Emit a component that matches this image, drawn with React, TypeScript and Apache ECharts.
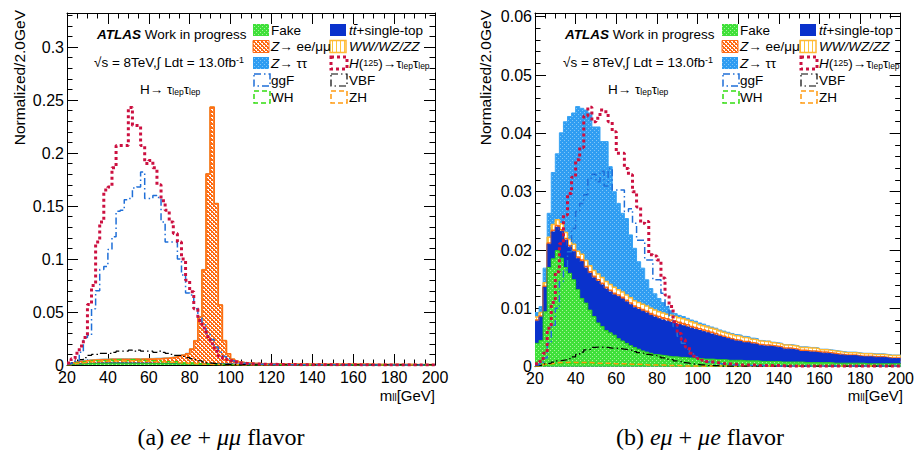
import React, { useEffect, useRef } from 'react';
import * as echarts from 'echarts';

// ---- binning: 2 GeV bins from 20 to 200 (lower edges) ----
const BIN_LO: number[] = Array.from({ length: 90 }, (_, i) => 20 + 2 * i);

// ================= (a) ee + mumu =================
const L_FAKE = [
  0.0004, 0.0006, 0.0008, 0.0010, 0.0012, 0.0013, 0.0014, 0.0015, 0.0016, 0.0016,
  0.0017, 0.0017, 0.0017, 0.0017, 0.0016, 0.0016, 0.0016, 0.0015, 0.0015, 0.0015,
  0.0014, 0.0014, 0.0013, 0.0013, 0.0012, 0.0012, 0.0011, 0.0011, 0.0010, 0.0010,
  0.0010, 0.0009, 0.0009, 0.0009, 0.0008, 0.0008, 0.0008, 0.0007, 0.0007, 0.0007,
  0.0006, 0.0006, 0.0006, 0.0005, 0.0005, 0.0005, 0.0005, 0.0004, 0.0004, 0.0004,
  0.0004, 0.0004, 0.0004, 0.0003, 0.0003, 0.0003, 0.0003, 0.0003, 0.0003, 0.0003,
  0.0003, 0.0003, 0.0002, 0.0002, 0.0002, 0.0002, 0.0002, 0.0002, 0.0002, 0.0002,
  0.0002, 0.0002, 0.0002, 0.0002, 0.0002, 0.0002, 0.0002, 0.0002, 0.0002, 0.0002,
  0.0002, 0.0002, 0.0002, 0.0002, 0.0002, 0.0001, 0.0001, 0.0001, 0.0001, 0.0001,
];
const L_TTBAR = [
  0.0001, 0.0002, 0.0002, 0.0003, 0.0003, 0.0003, 0.0003, 0.0003, 0.0003, 0.0003,
  0.0003, 0.0003, 0.0003, 0.0003, 0.0003, 0.0003, 0.0003, 0.0003, 0.0003, 0.0003,
  0.0003, 0.0003, 0.0003, 0.0003, 0.0003, 0.0003, 0.0003, 0.0003, 0.0003, 0.0003,
  0.0003, 0.0003, 0.0003, 0.0003, 0.0003, 0.0003, 0.0003, 0.0003, 0.0003, 0.0003,
  0.0003, 0.0003, 0.0003, 0.0003, 0.0003, 0.0002, 0.0002, 0.0002, 0.0002, 0.0002,
  0.0002, 0.0002, 0.0002, 0.0002, 0.0002, 0.0002, 0.0002, 0.0002, 0.0002, 0.0002,
  0.0002, 0.0002, 0.0002, 0.0002, 0.0002, 0.0002, 0.0002, 0.0002, 0.0002, 0.0002,
  0.0002, 0.0002, 0.0002, 0.0002, 0.0001, 0.0001, 0.0001, 0.0001, 0.0001, 0.0001,
  0.0001, 0.0001, 0.0001, 0.0001, 0.0001, 0.0001, 0.0001, 0.0001, 0.0001, 0.0001,
];
const L_ZLL = [
  0.0005, 0.0010, 0.0015, 0.0020, 0.0024, 0.0027, 0.0029, 0.0030, 0.0031, 0.0031,
  0.0032, 0.0032, 0.0033, 0.0033, 0.0034, 0.0034, 0.0035, 0.0035, 0.0036, 0.0037,
  0.0038, 0.0040, 0.0042, 0.0045, 0.0048, 0.0053, 0.0059, 0.0067, 0.0078, 0.0092,
  0.0135, 0.0215, 0.0440, 0.0885, 0.1790, 0.2420, 0.1510, 0.0555, 0.0218, 0.0095,
  0.0045, 0.0026, 0.0016, 0.0011, 0.0009, 0.0007, 0.0006, 0.0005, 0.0005, 0.0004,
  0.0004, 0.0004, 0.0003, 0.0003, 0.0003, 0.0003, 0.0003, 0.0003, 0.0002, 0.0002,
  0.0002, 0.0002, 0.0002, 0.0002, 0.0002, 0.0002, 0.0002, 0.0002, 0.0002, 0.0002,
  0.0002, 0.0002, 0.0002, 0.0002, 0.0002, 0.0001, 0.0001, 0.0001, 0.0001, 0.0001,
  0.0001, 0.0001, 0.0001, 0.0001, 0.0001, 0.0001, 0.0001, 0.0001, 0.0001, 0.0001,
];
const L_VV = [
  0.0001, 0.0001, 0.0001, 0.0001, 0.0001, 0.0001, 0.0001, 0.0001, 0.0001, 0.0001,
  0.0002, 0.0002, 0.0002, 0.0002, 0.0002, 0.0002, 0.0002, 0.0002, 0.0002, 0.0002,
  0.0002, 0.0002, 0.0002, 0.0002, 0.0002, 0.0002, 0.0002, 0.0002, 0.0002, 0.0002,
  0.0002, 0.0002, 0.0002, 0.0002, 0.0002, 0.0002, 0.0002, 0.0002, 0.0002, 0.0002,
  0.0001, 0.0001, 0.0001, 0.0001, 0.0001, 0.0001, 0.0001, 0.0001, 0.0001, 0.0001,
  0.0001, 0.0001, 0.0001, 0.0001, 0.0001, 0.0001, 0.0001, 0.0001, 0.0001, 0.0001,
  0.0001, 0.0001, 0.0001, 0.0001, 0.0001, 0.0001, 0.0001, 0.0001, 0.0001, 0.0001,
  0.0001, 0.0001, 0.0001, 0.0001, 0.0001, 0.0001, 0.0001, 0.0001, 0.0001, 0.0001,
  0.0001, 0.0001, 0.0001, 0.0001, 0.0001, 0.0001, 0.0001, 0.0001, 0.0001, 0.0001,
];
const L_ZTT = [
  0.0001, 0.0002, 0.0003, 0.0004, 0.0005, 0.0005, 0.0005, 0.0005, 0.0005, 0.0005,
  0.0005, 0.0005, 0.0005, 0.0005, 0.0005, 0.0005, 0.0005, 0.0005, 0.0005, 0.0005,
  0.0005, 0.0005, 0.0004, 0.0004, 0.0004, 0.0004, 0.0004, 0.0004, 0.0004, 0.0004,
  0.0004, 0.0003, 0.0003, 0.0003, 0.0003, 0.0002, 0.0002, 0.0002, 0.0002, 0.0001,
  0.0001, 0.0001, 0.0001, 0.0001, 0.0001, 0.0001, 0.0001, 0.0001, 0.0001, 0.0001,
  0.0001, 0.0001, 0.0001, 0.0001, 0.0001, 0.0001, 0.0001, 0.0001, 0.0001, 0.0001,
  0.0001, 0.0001, 0.0001, 0.0001, 0.0001, 0.0001, 0.0001, 0.0001, 0.0001, 0.0001,
  0.0001, 0.0001, 0.0001, 0.0001, 0.0001, 0.0001, 0.0001, 0.0001, 0.0001, 0.0001,
  0.0001, 0.0001, 0.0001, 0.0001, 0.0001, 0.0001, 0.0001, 0.0001, 0.0001, 0.0001,
];
const L_HIGGS = [
  0.002, 0.006, 0.011, 0.018, 0.026, 0.057, 0.075, 0.116, 0.135, 0.165,
  0.168, 0.186, 0.207, 0.207, 0.207, 0.243, 0.226, 0.226, 0.207, 0.190,
  0.193, 0.186, 0.170, 0.155, 0.146, 0.135, 0.124, 0.116, 0.100, 0.080,
  0.069, 0.053, 0.042, 0.035, 0.027, 0.020, 0.013, 0.008, 0.006, 0.005,
  0.0040, 0.0030, 0.0020, 0.0015, 0.0012, 0.0010, 0.0009, 0.0008, 0.0007, 0.0006,
  0.0006, 0.0005, 0.0005, 0.0004, 0.0004, 0.0004, 0.0003, 0.0003, 0.0003, 0.0003,
  0.0003, 0.0002, 0.0002, 0.0002, 0.0002, 0.0002, 0.0002, 0.0002, 0.0002, 0.0002,
  0.0002, 0.0001, 0.0001, 0.0002, 0.0001, 0.0001, 0.0001, 0.0001, 0.0001, 0.0001,
  0.0001, 0.0001, 0.0001, 0.0001, 0.0001, 0.0001, 0.0001, 0.0001, 0.0001, 0.0001,
];
const L_GGF = [
  0.001, 0.002, 0.004, 0.012, 0.026, 0.028, 0.053, 0.070, 0.090, 0.093,
  0.109, 0.121, 0.145, 0.146, 0.156, 0.157, 0.167, 0.168, 0.182, 0.157,
  0.157, 0.160, 0.158, 0.135, 0.116, 0.116, 0.116, 0.100, 0.085, 0.068,
  0.066, 0.053, 0.045, 0.038, 0.030, 0.024, 0.017, 0.012, 0.008, 0.006,
  0.0040, 0.0030, 0.0020, 0.0015, 0.0012, 0.0010, 0.0008, 0.0007, 0.0006, 0.0005,
  0.0005, 0.0004, 0.0004, 0.0004, 0.0003, 0.0003, 0.0003, 0.0003, 0.0002, 0.0002,
  0.0002, 0.0002, 0.0002, 0.0002, 0.0002, 0.0002, 0.0001, 0.0001, 0.0001, 0.0001,
  0.0001, 0.0001, 0.0001, 0.0001, 0.0001, 0.0001, 0.0001, 0.0001, 0.0001, 0.0001,
  0.0001, 0.0001, 0.0001, 0.0001, 0.0001, 0.0001, 0.0001, 0.0001, 0.0001, 0.0001,
];
const L_VBF = [
  0.001, 0.002, 0.004, 0.005, 0.007, 0.009, 0.010, 0.010, 0.011, 0.011,
  0.011, 0.012, 0.013, 0.013, 0.013, 0.014, 0.013, 0.014, 0.013, 0.013,
  0.013, 0.012, 0.013, 0.012, 0.011, 0.010, 0.009, 0.009, 0.008, 0.007,
  0.006, 0.005, 0.004, 0.003, 0.002, 0.0015, 0.0010, 0.0008, 0.0006, 0.0005,
  0.0004, 0.0004, 0.0003, 0.0003, 0.0002, 0.0002, 0.0002, 0.0002, 0.0001, 0.0001,
  0.0001, 0.0001, 0.0001, 0.0001, 0.0001, 0.0001, 0.0001, 0.0001, 0.0001, 0.0001,
  0.0001, 0.0001, 0.0001, 0.0001, 0.0001, 0.0001, 0.0001, 0.0001, 0.0001, 0.0001,
  0.0001, 0.0001, 0.0001, 0.0001, 0.0001, 0.0001, 0.0001, 0.0001, 0.0001, 0.0001,
  0.0001, 0.0001, 0.0001, 0.0001, 0.0001, 0.0001, 0.0001, 0.0001, 0.0001, 0.0001,
];
const L_WH = [
  0.0005, 0.0010, 0.0020, 0.0020, 0.0030, 0.0030, 0.0040, 0.0040, 0.0040, 0.0040,
  0.0050, 0.0040, 0.0050, 0.0050, 0.0040, 0.0050, 0.0050, 0.0040, 0.0050, 0.0040,
  0.0040, 0.0040, 0.0040, 0.0030, 0.0030, 0.0030, 0.0030, 0.0020, 0.0020, 0.0020,
  0.0020, 0.0015, 0.0010, 0.0010, 0.0008, 0.0006, 0.0005, 0.0004, 0.0003, 0.0003,
  0.0002, 0.0002, 0.0002, 0.0002, 0.0001, 0.0001, 0.0001, 0.0001, 0.0001, 0.0001,
  0.0001, 0.0001, 0.0001, 0.0001, 0.0001, 0.0001, 0.0001, 0.0001, 0.0001, 0.0001,
  0.0001, 0.0001, 0.0001, 0.0001, 0.0001, 0.0001, 0.0001, 0.0001, 0.0001, 0.0001,
  0.0001, 0.0001, 0.0001, 0.0001, 0.0001, 0.0001, 0.0001, 0.0001, 0.0001, 0.0001,
  0.0001, 0.0001, 0.0001, 0.0001, 0.0001, 0.0001, 0.0001, 0.0001, 0.0001, 0.0001,
];
const L_ZH = [
  0.0003, 0.0008, 0.0015, 0.0020, 0.0025, 0.0030, 0.0030, 0.0035, 0.0035, 0.0035,
  0.0035, 0.0040, 0.0035, 0.0040, 0.0035, 0.0040, 0.0040, 0.0035, 0.0035, 0.0035,
  0.0035, 0.0030, 0.0030, 0.0030, 0.0025, 0.0025, 0.0025, 0.0020, 0.0020, 0.0015,
  0.0015, 0.0012, 0.0010, 0.0008, 0.0006, 0.0005, 0.0004, 0.0003, 0.0003, 0.0002,
  0.0002, 0.0002, 0.0001, 0.0001, 0.0001, 0.0001, 0.0001, 0.0001, 0.0001, 0.0001,
  0.0001, 0.0001, 0.0001, 0.0001, 0.0001, 0.0001, 0.0001, 0.0001, 0.0001, 0.0001,
  0.0001, 0.0001, 0.0001, 0.0001, 0.0001, 0.0001, 0.0001, 0.0001, 0.0001, 0.0001,
  0.0001, 0.0001, 0.0001, 0.0001, 0.0001, 0.0001, 0.0001, 0.0001, 0.0001, 0.0001,
  0.0001, 0.0001, 0.0001, 0.0001, 0.0001, 0.0001, 0.0001, 0.0001, 0.0001, 0.0001,
];

// ================= (b) e mu + mu e =================
const R_FAKE = [
  0.0040, 0.0045, 0.0094, 0.0170, 0.0185, 0.0199, 0.0186, 0.0170, 0.0160, 0.0149,
  0.0132, 0.0117, 0.0109, 0.0097, 0.0086, 0.0075, 0.0069, 0.0062, 0.0058, 0.0054,
  0.0048, 0.0044, 0.0040, 0.0036, 0.0033, 0.0030, 0.0027, 0.0025, 0.0023, 0.0021,
  0.0020, 0.0019, 0.0018, 0.0017, 0.0017, 0.0016, 0.0016, 0.0015, 0.0015, 0.0014,
  0.0014, 0.0013, 0.0013, 0.0013, 0.0012, 0.0012, 0.0012, 0.0011, 0.0011, 0.0011,
  0.0011, 0.0010, 0.0010, 0.0010, 0.0010, 0.0009, 0.0009, 0.0009, 0.0009, 0.0009,
  0.0008, 0.0008, 0.0008, 0.0008, 0.0008, 0.0008, 0.0007, 0.0007, 0.0007, 0.0007,
  0.0007, 0.0007, 0.0007, 0.0006, 0.0006, 0.0006, 0.0006, 0.0006, 0.0006, 0.0006,
  0.0006, 0.0005, 0.0005, 0.0005, 0.0005, 0.0005, 0.0005, 0.0005, 0.0005, 0.0005,
];
const R_TTBAR = [
  0.0038, 0.0040, 0.0042, 0.0040, 0.0046, 0.0040, 0.0046, 0.0047, 0.0045, 0.0048,
  0.0053, 0.0063, 0.0060, 0.0063, 0.0066, 0.0071, 0.0071, 0.0071, 0.0070, 0.0069,
  0.0072, 0.0072, 0.0071, 0.0070, 0.0068, 0.0068, 0.0068, 0.0067, 0.0065, 0.0064,
  0.0062, 0.0061, 0.0060, 0.0059, 0.0057, 0.0056, 0.0054, 0.0053, 0.0051, 0.0050,
  0.0048, 0.0047, 0.0045, 0.0043, 0.0042, 0.0040, 0.0038, 0.0037, 0.0035, 0.0033,
  0.0032, 0.0031, 0.0031, 0.0029, 0.0028, 0.0027, 0.0026, 0.0026, 0.0025, 0.0024,
  0.0024, 0.0022, 0.0022, 0.0021, 0.0020, 0.0018, 0.0019, 0.0018, 0.0018, 0.0017,
  0.0016, 0.0016, 0.0015, 0.0015, 0.0014, 0.0014, 0.0013, 0.0013, 0.0013, 0.0012,
  0.0011, 0.0012, 0.0012, 0.0011, 0.0011, 0.0011, 0.0010, 0.0009, 0.0009, 0.0009,
];
const R_ZLL = [
  0.0002, 0.0002, 0.0002, 0.0002, 0.0003, 0.0003, 0.0003, 0.0003, 0.0003, 0.0003,
  0.0003, 0.0003, 0.0003, 0.0003, 0.0003, 0.0003, 0.0003, 0.0003, 0.0003, 0.0003,
  0.0003, 0.0003, 0.0003, 0.0003, 0.0003, 0.0003, 0.0003, 0.0003, 0.0003, 0.0003,
  0.0004, 0.0004, 0.0004, 0.0004, 0.0004, 0.0004, 0.0004, 0.0004, 0.0003, 0.0003,
  0.0003, 0.0003, 0.0003, 0.0003, 0.0003, 0.0002, 0.0002, 0.0002, 0.0002, 0.0002,
  0.0002, 0.0002, 0.0002, 0.0002, 0.0002, 0.0002, 0.0002, 0.0002, 0.0002, 0.0002,
  0.0002, 0.0002, 0.0002, 0.0002, 0.0002, 0.0002, 0.0002, 0.0002, 0.0002, 0.0002,
  0.0002, 0.0002, 0.0002, 0.0002, 0.0002, 0.0001, 0.0001, 0.0001, 0.0001, 0.0001,
  0.0001, 0.0001, 0.0001, 0.0001, 0.0001, 0.0001, 0.0001, 0.0001, 0.0001, 0.0001,
];
const R_VV = [
  0.0005, 0.0006, 0.0006, 0.0010, 0.0010, 0.0010, 0.0010, 0.0010, 0.0010, 0.0010,
  0.0010, 0.0010, 0.0010, 0.0010, 0.0010, 0.0010, 0.0010, 0.0010, 0.0010, 0.0010,
  0.0009, 0.0009, 0.0009, 0.0009, 0.0009, 0.0009, 0.0009, 0.0009, 0.0009, 0.0009,
  0.0008, 0.0008, 0.0008, 0.0008, 0.0008, 0.0008, 0.0008, 0.0008, 0.0008, 0.0008,
  0.0007, 0.0007, 0.0007, 0.0007, 0.0007, 0.0007, 0.0007, 0.0007, 0.0007, 0.0007,
  0.0007, 0.0007, 0.0006, 0.0006, 0.0006, 0.0006, 0.0006, 0.0006, 0.0005, 0.0005,
  0.0005, 0.0005, 0.0005, 0.0005, 0.0005, 0.0005, 0.0005, 0.0005, 0.0005, 0.0005,
  0.0004, 0.0004, 0.0004, 0.0004, 0.0004, 0.0004, 0.0004, 0.0004, 0.0004, 0.0004,
  0.0004, 0.0004, 0.0004, 0.0004, 0.0004, 0.0004, 0.0004, 0.0004, 0.0004, 0.0004,
];
const R_ZTT = [
  0.0008, 0.0010, 0.0025, 0.0041, 0.0089, 0.0113, 0.0156, 0.0190, 0.0211, 0.0225,
  0.0248, 0.0250, 0.0258, 0.0262, 0.0246, 0.0252, 0.0233, 0.0240, 0.0202, 0.0164,
  0.0148, 0.0135, 0.0131, 0.0108, 0.0090, 0.0070, 0.0062, 0.0045, 0.0034, 0.0028,
  0.0023, 0.0018, 0.0013, 0.0008, 0.0005, 0.0004, 0.0004, 0.0003, 0.0003, 0.0003,
  0.0003, 0.0003, 0.0002, 0.0002, 0.0002, 0.0002, 0.0002, 0.0002, 0.0002, 0.0002,
  0.0002, 0.0002, 0.0002, 0.0002, 0.0002, 0.0001, 0.0001, 0.0001, 0.0001, 0.0001,
  0.0001, 0.0001, 0.0001, 0.0001, 0.0001, 0.0001, 0.0001, 0.0001, 0.0001, 0.0001,
  0.0001, 0.0001, 0.0001, 0.0001, 0.0001, 0.0001, 0.0001, 0.0001, 0.0001, 0.0001,
  0.0001, 0.0001, 0.0001, 0.0001, 0.0001, 0.0001, 0.0001, 0.0001, 0.0001, 0.0001,
];
const R_HIGGS = [
  0.0005, 0.0009, 0.0023, 0.0066, 0.0110, 0.0163, 0.0211, 0.0260, 0.0297, 0.0325,
  0.0355, 0.0376, 0.0430, 0.0445, 0.0420, 0.0426, 0.0440, 0.0437, 0.0420, 0.0403,
  0.0366, 0.0366, 0.0340, 0.0329, 0.0300, 0.0274, 0.0246, 0.0249, 0.0192, 0.0190,
  0.0183, 0.0152, 0.0123, 0.0103, 0.0077, 0.0057, 0.0046, 0.0034, 0.0023, 0.0018,
  0.0014, 0.0011, 0.0009, 0.0008, 0.0007, 0.0006, 0.0005, 0.0005, 0.0004, 0.0004,
  0.0003, 0.0003, 0.0003, 0.0003, 0.0002, 0.0002, 0.0002, 0.0002, 0.0002, 0.0002,
  0.0002, 0.0001, 0.0001, 0.0001, 0.0001, 0.0001, 0.0001, 0.0001, 0.0001, 0.0001,
  0.0001, 0.0001, 0.0001, 0.0001, 0.0001, 0.0001, 0.0001, 0.0001, 0.0001, 0.0001,
  0.0001, 0.0001, 0.0001, 0.0001, 0.0001, 0.0001, 0.0001, 0.0001, 0.0001, 0.0001,
];
const R_GGF = [
  0.0003, 0.0005, 0.0015, 0.0040, 0.0071, 0.0100, 0.0146, 0.0166, 0.0197, 0.0237,
  0.0266, 0.0280, 0.0295, 0.0323, 0.0330, 0.0317, 0.0335, 0.0310, 0.0340, 0.0303,
  0.0303, 0.0303, 0.0266, 0.0271, 0.0246, 0.0217, 0.0217, 0.0183, 0.0183, 0.0149,
  0.0149, 0.0126, 0.0103, 0.0085, 0.0069, 0.0052, 0.0040, 0.0030, 0.0022, 0.0017,
  0.0013, 0.0010, 0.0008, 0.0007, 0.0006, 0.0005, 0.0004, 0.0004, 0.0003, 0.0003,
  0.0003, 0.0002, 0.0002, 0.0002, 0.0002, 0.0002, 0.0002, 0.0001, 0.0001, 0.0001,
  0.0001, 0.0001, 0.0001, 0.0001, 0.0001, 0.0001, 0.0001, 0.0001, 0.0001, 0.0001,
  0.0001, 0.0001, 0.0001, 0.0001, 0.0001, 0.0001, 0.0001, 0.0001, 0.0001, 0.0001,
  0.0001, 0.0001, 0.0001, 0.0001, 0.0001, 0.0001, 0.0001, 0.0001, 0.0001, 0.0001,
];
const R_VBF = [
  0.0002, 0.0003, 0.0005, 0.0006, 0.0008, 0.0010, 0.0011, 0.0012, 0.0014, 0.0017,
  0.0021, 0.0025, 0.0029, 0.0030, 0.0033, 0.0034, 0.0033, 0.0033, 0.0032, 0.0032,
  0.0031, 0.0030, 0.0029, 0.0028, 0.0026, 0.0024, 0.0023, 0.0021, 0.0020, 0.0019,
  0.0017, 0.0015, 0.0013, 0.0012, 0.0010, 0.0009, 0.0007, 0.0006, 0.0005, 0.0004,
  0.0003, 0.0003, 0.0002, 0.0002, 0.0002, 0.0001, 0.0001, 0.0001, 0.0001, 0.0001,
  0.0001, 0.0001, 0.0001, 0.0001, 0.0001, 0.0001, 0.0001, 0.0001, 0.0001, 0.0001,
  0.0001, 0.0001, 0.0001, 0.0001, 0.0001, 0.0001, 0.0001, 0.0001, 0.0001, 0.0001,
  0.0001, 0.0001, 0.0001, 0.0001, 0.0001, 0.0001, 0.0001, 0.0001, 0.0001, 0.0001,
  0.0001, 0.0001, 0.0001, 0.0001, 0.0001, 0.0001, 0.0001, 0.0001, 0.0001, 0.0001,
];
const R_WH = [
  0.0001, 0.0002, 0.0003, 0.0004, 0.0005, 0.0005, 0.0006, 0.0006, 0.0006, 0.0006,
  0.0006, 0.0006, 0.0006, 0.0006, 0.0006, 0.0005, 0.0005, 0.0005, 0.0005, 0.0005,
  0.0005, 0.0004, 0.0004, 0.0004, 0.0004, 0.0003, 0.0003, 0.0003, 0.0003, 0.0003,
  0.0003, 0.0002, 0.0002, 0.0002, 0.0002, 0.0001, 0.0001, 0.0001, 0.0001, 0.0001,
  0.0001, 0.0001, 0.0001, 0.0001, 0.0001, 0.0001, 0.0001, 0.0001, 0.0001, 0.0001,
  0.0001, 0.0001, 0.0001, 0.0001, 0.0001, 0.0001, 0.0001, 0.0001, 0.0001, 0.0001,
  0.0001, 0.0001, 0.0001, 0.0001, 0.0001, 0.0001, 0.0001, 0.0001, 0.0001, 0.0001,
  0.0001, 0.0001, 0.0001, 0.0001, 0.0001, 0.0001, 0.0001, 0.0001, 0.0001, 0.0001,
  0.0001, 0.0001, 0.0001, 0.0001, 0.0001, 0.0001, 0.0001, 0.0001, 0.0001, 0.0001,
];
const R_ZH = [
  0.0001, 0.0002, 0.0004, 0.0005, 0.0006, 0.0007, 0.0007, 0.0007, 0.0008, 0.0007,
  0.0007, 0.0007, 0.0007, 0.0007, 0.0006, 0.0006, 0.0006, 0.0006, 0.0006, 0.0005,
  0.0005, 0.0005, 0.0005, 0.0004, 0.0004, 0.0004, 0.0004, 0.0003, 0.0003, 0.0003,
  0.0003, 0.0003, 0.0002, 0.0002, 0.0002, 0.0002, 0.0001, 0.0001, 0.0001, 0.0001,
  0.0001, 0.0001, 0.0001, 0.0001, 0.0001, 0.0001, 0.0001, 0.0001, 0.0001, 0.0001,
  0.0001, 0.0001, 0.0001, 0.0001, 0.0001, 0.0001, 0.0001, 0.0001, 0.0001, 0.0001,
  0.0001, 0.0001, 0.0001, 0.0001, 0.0001, 0.0001, 0.0001, 0.0001, 0.0001, 0.0001,
  0.0001, 0.0001, 0.0001, 0.0001, 0.0001, 0.0001, 0.0001, 0.0001, 0.0001, 0.0001,
  0.0001, 0.0001, 0.0001, 0.0001, 0.0001, 0.0001, 0.0001, 0.0001, 0.0001, 0.0001,
];

const L_YMAX = 0.3321;
const R_YMAX = 0.06064;

const SANS = '"Liberation Sans", Arial, Helvetica, sans-serif';
const SERIF = '"Liberation Serif", "Times New Roman", serif';

const C = {
  fake: '#3fe03a', fakeLine: '#2ccc22',
  ttbar: '#0a32cc',
  zll: '#ff6a14',
  vv: '#ffb833',
  ztt: '#2f9df2', zttLine: '#3aa4f4',
  higgs: '#cc1040', ggf: '#1f6fd8', vbf: '#000000', wh: '#33dd11', zh: '#ff9a10',
};

function makePattern(w: number, h: number, draw: (ctx: CanvasRenderingContext2D) => void) {
  const c = document.createElement('canvas');
  c.width = w; c.height = h;
  const ctx = c.getContext('2d')!;
  draw(ctx);
  return { image: c, repeat: 'repeat', imageWidth: w, imageHeight: h } as any;
}

function pts(vals: number[]) {
  const d = BIN_LO.map((x, i) => [x, vals[i]]);
  d.push([200, vals[vals.length - 1]]);
  return d;
}

// running sum of the stacked components (THStack layering)
function cumulative(...layers: number[][]) {
  return layers[0].map((_, i) => layers.reduce((s, a) => s + a[i], 0));
}

export default function App() {
  const ref = useRef<HTMLDivElement>(null);
  useEffect(() => {
    if (!ref.current) return;
    const chart = echarts.init(ref.current, null, { renderer: 'svg', width: 917, height: 450 });

    const pFake = makePattern(4, 4, (g) => {
      g.fillStyle = C.fake; g.fillRect(0, 0, 4, 4);
      g.fillStyle = '#a6f59a'; g.fillRect(0, 0, 1, 1); g.fillRect(2, 2, 1, 1);
    });
    const pZll = makePattern(4, 4, (g) => {
      g.fillStyle = '#ffffff'; g.fillRect(0, 0, 4, 4);
      g.fillStyle = C.zll;
      for (let i = 0; i < 4; i++) { g.fillRect(i, i, 1, 1); g.fillRect(3 - i, i, 1, 1); }
      g.fillRect(1, 0, 1, 1); g.fillRect(3, 2, 1, 1);
    });
    const pZtt = makePattern(4, 4, (g) => {
      g.fillStyle = C.ztt; g.fillRect(0, 0, 4, 4);
      g.fillStyle = '#80c6f8'; g.fillRect(0, 0, 1, 1); g.fillRect(2, 2, 1, 1);
    });
    const pVV = makePattern(4, 4, (g) => {
      g.fillStyle = '#ffffff'; g.fillRect(0, 0, 4, 4);
      g.fillStyle = '#ffc53a'; g.fillRect(0, 0, 1, 4);
    });

    const xAx = (gridIndex: number, position: string, show: boolean) => ({
      type: 'value', gridIndex, position, min: 20, max: 200, interval: 20,
      axisLine: { show: true, onZero: false, lineStyle: { color: '#000', width: 1 } },
      axisTick: { show: true, inside: true, length: 11, lineStyle: { color: '#000', width: 1 } },
      minorTick: { show: true, splitNumber: 4, length: 5.5, lineStyle: { color: '#000', width: 1 } },
      axisLabel: { show, margin: 4, color: '#000', fontFamily: SANS, fontSize: 16 },
      splitLine: { show: false }, minorSplitLine: { show: false },
    });
    const fmtY = (interval: number) => (v: number) => {
      const k = Math.round(v / interval);
      if (Math.abs(k * interval - v) > 1e-9) return '';
      return String(+(k * interval).toFixed(4));
    };
    const yAx = (gridIndex: number, position: string, max: number, interval: number, show: boolean) => ({
      type: 'value', gridIndex, position, min: 0, max, interval,
      axisLine: { show: true, onZero: false, lineStyle: { color: '#000', width: 1 } },
      axisTick: { show: true, inside: true, length: 11, lineStyle: { color: '#000', width: 1 } },
      minorTick: { show: true, splitNumber: 5, length: 5.5, lineStyle: { color: '#000', width: 1 } },
      axisLabel: { show, margin: 3, color: '#000', fontFamily: SANS, fontSize: 16, formatter: fmtY(interval) },
      splitLine: { show: false }, minorSplitLine: { show: false },
    });

    const areaS = (name: string, vals: number[], ax: number, fill: any, stroke: string, lw: number) => ({
      name, type: 'line', xAxisIndex: ax, yAxisIndex: ax, step: 'end', data: pts(vals),
      symbol: 'none', showSymbol: false, silent: true, z: 2,
      lineStyle: { color: stroke, width: lw },
      areaStyle: { color: fill, opacity: 1, origin: 'start' },
    });
    const lineS = (name: string, vals: number[], ax: number, color: string, width: number, type: any) => ({
      name, type: 'line', xAxisIndex: ax, yAxisIndex: ax, step: 'end', data: pts(vals),
      symbol: 'none', showSymbol: false, silent: true, z: 4,
      lineStyle: { color, width, type },
    });

    const DASHDOT = [7, 3, 1.5, 3];
    const series: any[] = [];
    const addPanel = (ax: number, d: any) => {
      const c1 = cumulative(d.fake);
      const c2 = cumulative(d.fake, d.tt);
      const c3 = cumulative(d.fake, d.tt, d.zll);
      const c4 = cumulative(d.fake, d.tt, d.zll, d.vv);
      const c5 = cumulative(d.fake, d.tt, d.zll, d.vv, d.ztt);
      // top of the stack drawn first, lower layers painted over it
      series.push(areaS('Z→ττ', c5, ax, pZtt, C.zttLine, 1));
      series.push(areaS('WW/WZ/ZZ', c4, ax, pVV, C.vv, 1.5));
      series.push(areaS('Z→ee/μμ', c3, ax, pZll, C.zll, 1.5));
      series.push(areaS('tt+single-top', c2, ax, C.ttbar, C.ttbar, 1));
      series.push(areaS('Fake', c1, ax, pFake, C.fakeLine, 1));
      series.push(lineS('WH', d.wh, ax, C.wh, 1.5, [5, 3]));
      series.push(lineS('ZH', d.zh, ax, C.zh, 1.5, [5, 3]));
      series.push(lineS('VBF', d.vbf, ax, C.vbf, 1.2, DASHDOT));
      series.push(lineS('ggF', d.ggf, ax, C.ggf, 1.5, DASHDOT));
      series.push(lineS('H(125)', d.h, ax, C.higgs, 3, [3, 3]));
    };
    addPanel(0, { fake: L_FAKE, tt: L_TTBAR, zll: L_ZLL, vv: L_VV, ztt: L_ZTT, wh: L_WH, zh: L_ZH, vbf: L_VBF, ggf: L_GGF, h: L_HIGGS });
    addPanel(2, { fake: R_FAKE, tt: R_TTBAR, zll: R_ZLL, vv: R_VV, ztt: R_ZTT, wh: R_WH, zh: R_ZH, vbf: R_VBF, ggf: R_GGF, h: R_HIGGS });

    // ---- graphic: legend, labels, captions ----
    const FS = 13.5;
    const rich = {
      i: { fontStyle: 'italic', fontFamily: SANS, fontSize: FS, fill: '#000' },
      b: { fontStyle: 'italic', fontWeight: 'bold', fontFamily: SANS, fontSize: FS, fill: '#000' },
      s: { fontFamily: SANS, fontSize: 8.5, fill: '#000', verticalAlign: 'bottom' },
      m: { fontFamily: SANS, fontSize: 9, fill: '#000' },
      sup: { fontFamily: SANS, fontSize: 9, fill: '#000', verticalAlign: 'top' },
    };
    const txt = (x: number, y: number, text: string, extra: any = {}) => ({
      type: 'text', x, y, z: 20, silent: true,
      style: {
        text, rich, fill: '#000', font: `${FS}px ${SANS}`,
        align: 'left', verticalAlign: 'middle', textAlign: 'left', textVerticalAlign: 'middle', ...extra,
      },
    });
    const ROWS = [30, 46.5, 63, 80, 97];
    const box = (x: number, y: number, style: any) => ({
      type: 'rect', z: 20, silent: true, shape: { x, y: y - 6, width: 16, height: 12 }, style,
    });
    const outline = (color: string, w: number, dash: number[]) => ({ fill: 'none', stroke: color, lineWidth: w, lineDash: dash });

    const panelGraphics = (c1: number, c2: number, ax: number, ay: number) => [
      box(c1, ROWS[0], { fill: pFake, stroke: null }),
      box(c1, ROWS[1], { fill: pZll, stroke: C.zll, lineWidth: 1 }),
      box(c1, ROWS[2], { fill: pZtt, stroke: null }),
      box(c1 + 1, ROWS[3], outline(C.ggf, 1.5, DASHDOT)),
      box(c1 + 1, ROWS[4], outline(C.wh, 1.5, [5, 3])),
      box(c2, ROWS[0], { fill: C.ttbar, stroke: null }),
      box(c2, ROWS[1], { fill: pVV, stroke: C.vv, lineWidth: 1.5 }),
      box(c2 + 1, ROWS[2], outline(C.higgs, 3, [3, 3])),
      box(c2 + 1, ROWS[3], outline('#000', 1.2, DASHDOT)),
      box(c2 + 1, ROWS[4], outline(C.zh, 1.5, [5, 3])),
      txt(c1 + 18, ROWS[0], 'Fake'),
      txt(c1 + 18, ROWS[1], '{i|Z}→ ee/μμ'),
      txt(c1 + 18, ROWS[2], '{i|Z}→ ττ'),
      txt(c1 + 18, ROWS[3], 'ggF'),
      txt(c1 + 18, ROWS[4], 'WH'),
      txt(c2 + 19, ROWS[0], '{i|tt\u0304}+single-top'),
      txt(c2 + 19, ROWS[1], '{i|WW/WZ/ZZ}'),
      txt(c2 + 19, ROWS[2], '{i|H}({m|125})→τ{s|lep}τ{s|lep}'),
      txt(c2 + 19, ROWS[3], 'VBF'),
      txt(c2 + 19, ROWS[4], 'ZH'),
      txt(ax, 34, '{b|ATLAS} Work in progress'),
      txt(ay, 62, '√s = 8TeV,∫ Ldt = 13.0fb{sup|-1}'),
      txt(ax + 43, 89, 'H→ τ{s|lep}τ{s|lep}'),
    ];

    const yTitle = (x: number) => ({
      type: 'text', x, y: 10, rotation: Math.PI / 2, z: 20, silent: true,
      style: { text: 'Normalized/2.0GeV', fill: '#000', font: `15.5px ${SANS}`, align: 'right', verticalAlign: 'middle', textAlign: 'right', textVerticalAlign: 'middle' },
    });
    const xTitle = (xr: number) => ({
      type: 'text', x: xr, y: 395, z: 20, silent: true,
      style: {
        text: 'm{s|ll}[GeV]', fill: '#000', font: `15px ${SANS}`, align: 'right', verticalAlign: 'middle', textAlign: 'right', textVerticalAlign: 'middle',
        rich: { s: { fontFamily: SANS, fontSize: 10, fill: '#000', verticalAlign: 'bottom' } },
      },
    });
    const capRich = { i: { fontStyle: 'italic', fontFamily: SERIF, fontSize: 24, fill: '#000' } };
    const caption = (cx: number, text: string) => ({
      type: 'text', x: cx, y: 437, z: 20, silent: true,
      style: { text, rich: capRich, fill: '#000', font: `24px ${SERIF}`, align: 'center', verticalAlign: 'middle', textAlign: 'center', textVerticalAlign: 'middle' },
    });

    const graphic = [
      ...panelGraphics(253, 330, 97, 94),
      ...panelGraphics(722, 800, 565, 563),
      yTitle(19), yTitle(485),
      xTitle(435), xTitle(903),
      caption(221, '(a) {i|ee} + {i|μμ} flavor'),
      caption(700, '(b) {i|eμ} + {i|μe} flavor'),
    ];

    chart.setOption({
      animation: false,
      backgroundColor: '#fff',
      textStyle: { fontFamily: SANS },
      grid: [
        { left: 67, top: 13, width: 368, height: 352, containLabel: false },
        { left: 535, top: 13, width: 368, height: 353.7, containLabel: false },
      ],
      xAxis: [xAx(0, 'bottom', true), xAx(0, 'top', false), xAx(1, 'bottom', true), xAx(1, 'top', false)],
      yAxis: [
        yAx(0, 'left', L_YMAX, 0.05, true), yAx(0, 'right', L_YMAX, 0.05, false),
        yAx(1, 'left', R_YMAX, 0.01, true), yAx(1, 'right', R_YMAX, 0.01, false),
      ],
      series,
      graphic,
    });
    return () => chart.dispose();
  }, []);
  return <div ref={ref} style={{ position: 'absolute', left: 0, top: 0, width: 917, height: 450, background: '#fff' }} />;
}
